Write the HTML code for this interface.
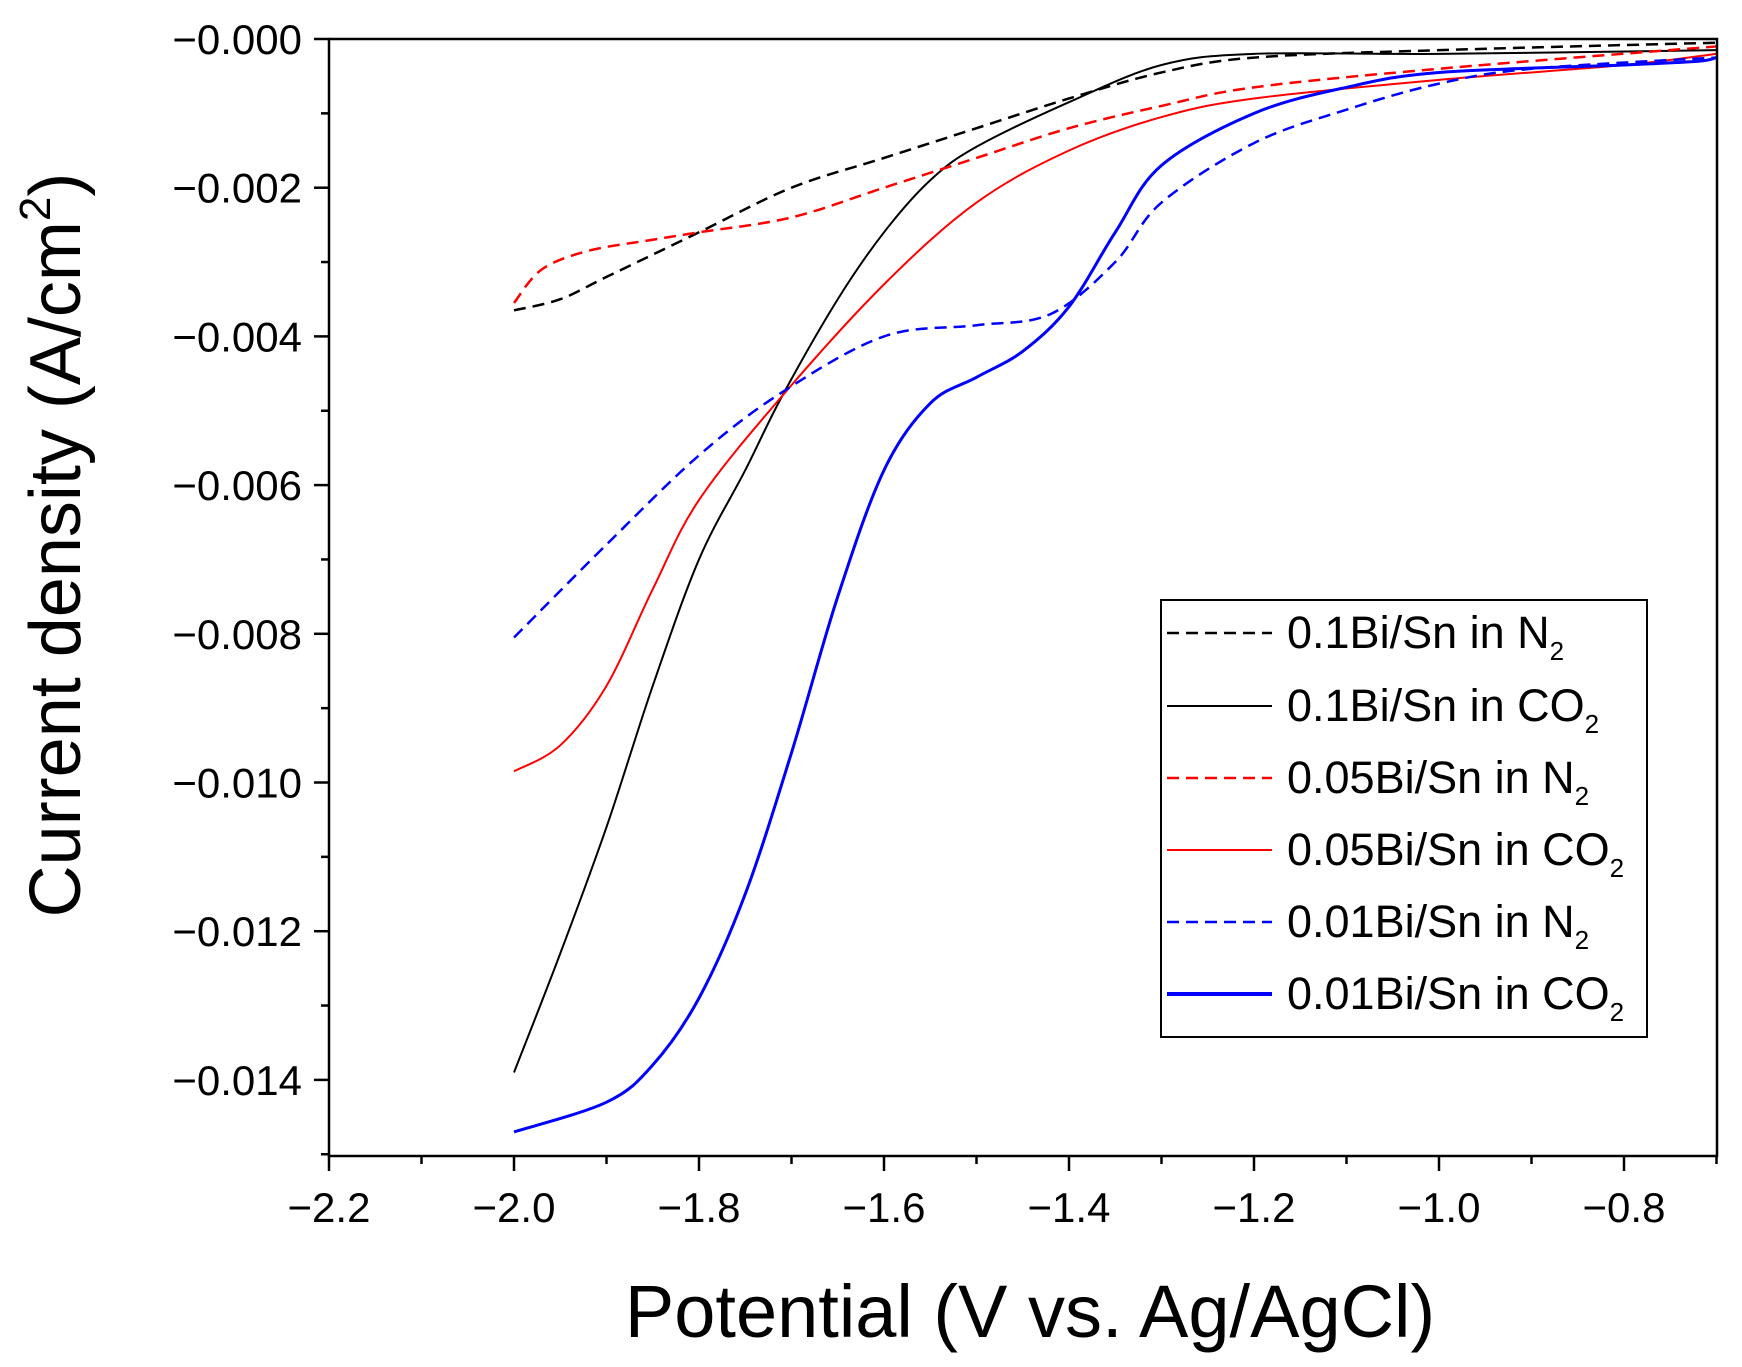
<!DOCTYPE html>
<html><head><meta charset="utf-8"><style>
html,body{margin:0;padding:0;background:#fff;}
svg{display:block;font-family:"Liberation Sans",Arial,sans-serif;}
</style></head><body>
<svg id="s" width="1742" height="1367" viewBox="0 0 1742 1367" xmlns="http://www.w3.org/2000/svg">
<rect width="1742" height="1367" fill="#fff"/>
<g id="curves"></g>
<rect x="329" y="39" width="1388" height="1117" fill="none" stroke="#000" stroke-width="2.5"/>
<g id="ticks" stroke="#000" stroke-width="2.5"></g>
<g id="labels" font-size="42" fill="#000"></g>
<text x="1030" y="1337" font-size="74" text-anchor="middle">Potential (V vs. Ag/AgCl)</text>
<text transform="translate(80,545) rotate(-90)" font-size="72" text-anchor="middle">Current density (A/cm<tspan dy="-30" font-size="44">2</tspan><tspan dy="30">)</tspan></text>
<rect x="1161" y="600" width="486" height="437" fill="#fff" stroke="#000" stroke-width="2"/>
<g font-size="45" fill="#000">
<line x1="1167" y1="633" x2="1272" y2="633" stroke="#000" stroke-width="2.5" stroke-dasharray="12,7"/>
<text x="1287" y="648">0.1Bi/Sn in N<tspan dy="12" font-size="26">2</tspan></text>
<line x1="1167" y1="706" x2="1272" y2="706" stroke="#000" stroke-width="2"/>
<text x="1287" y="721">0.1Bi/Sn in CO<tspan dy="12" font-size="26">2</tspan></text>
<line x1="1167" y1="778" x2="1272" y2="778" stroke="#f00" stroke-width="2.5" stroke-dasharray="12,7"/>
<text x="1287" y="793">0.05Bi/Sn in N<tspan dy="12" font-size="26">2</tspan></text>
<line x1="1167" y1="850" x2="1272" y2="850" stroke="#f00" stroke-width="2"/>
<text x="1287" y="865">0.05Bi/Sn in CO<tspan dy="12" font-size="26">2</tspan></text>
<line x1="1167" y1="922" x2="1272" y2="922" stroke="#00f" stroke-width="2.5" stroke-dasharray="12,7"/>
<text x="1287" y="937">0.01Bi/Sn in N<tspan dy="12" font-size="26">2</tspan></text>
<line x1="1167" y1="994" x2="1272" y2="994" stroke="#00f" stroke-width="4"/>
<text x="1287" y="1009">0.01Bi/Sn in CO<tspan dy="12" font-size="26">2</tspan></text>
</g>
</svg>
<script>
const NS="http://www.w3.org/2000/svg";
const X=v=>329+(v+2.2)*925, Y=j=>39+(-j)*74.35;
function el(p,t,a){const e=document.createElementNS(NS,t);for(const k in a)e.setAttribute(k,a[k]);p.appendChild(e);return e;}
const tk=document.getElementById('ticks'),lb=document.getElementById('labels');
for(let i=0;i<=15;i++){const v=-2.2+i*0.1;const x=X(v);const maj=i%2==0;
 el(tk,'line',{x1:x,y1:1156,x2:x,y2:1156+(maj?15:8)});
 if(maj&&i<=14){const t=el(lb,'text',{x:x,y:1222,'text-anchor':'middle'});t.textContent='\u2212'+Math.abs(v).toFixed(1);}}
for(let i=0;i<=15;i++){const y=Y(-i);const maj=i%2==0;
 el(tk,'line',{x1:329,y1:y,x2:329-(maj?15:8),y2:y});
 if(maj){const t=el(lb,'text',{x:302,y:y+15,'text-anchor':'end'});t.textContent='\u2212'+(i/1000).toFixed(3);}}
function path(pts){const p=pts.map(a=>[X(a[0]),Y(a[1])]);let d='M'+p[0][0]+','+p[0][1];
 for(let i=0;i<p.length-1;i++){const p0=p[i-1]||p[i],p1=p[i],p2=p[i+1],p3=p[i+2]||p2;
 d+=' C'+(p1[0]+(p2[0]-p0[0])/6)+','+(p1[1]+(p2[1]-p0[1])/6)+' '+(p2[0]-(p3[0]-p1[0])/6)+','+(p2[1]-(p3[1]-p1[1])/6)+' '+p2[0]+','+p2[1];}return d;}
const C=document.getElementById('curves');
const S=[
 ['#000',2.5,'12,7',[[-2.0,-3.65],[-1.95,-3.5],[-1.9,-3.2],[-1.8,-2.6],[-1.7,-2.0],[-1.6,-1.6],[-1.5,-1.2],[-1.4,-0.8],[-1.3,-0.45],[-1.2,-0.25],[-1.0,-0.15],[-0.7,-0.05]]],
 ['#000',2,'',[[-2.0,-13.9],[-1.95,-12.3],[-1.9,-10.6],[-1.85,-8.7],[-1.8,-7.0],[-1.75,-5.8],[-1.71,-4.8],[-1.65,-3.5],[-1.6,-2.6],[-1.55,-1.9],[-1.5,-1.45],[-1.4,-0.85],[-1.3,-0.35],[-1.2,-0.2],[-1.0,-0.2],[-0.7,-0.15]]],
 ['#f00',2.5,'12,7',[[-2.0,-3.55],[-1.97,-3.1],[-1.92,-2.85],[-1.85,-2.7],[-1.8,-2.6],[-1.7,-2.4],[-1.6,-2.0],[-1.5,-1.6],[-1.4,-1.2],[-1.3,-0.9],[-1.2,-0.65],[-1.0,-0.4],[-0.7,-0.1]]],
 ['#f00',2,'',[[-2.0,-9.85],[-1.95,-9.5],[-1.9,-8.7],[-1.85,-7.4],[-1.8,-6.2],[-1.71,-4.8],[-1.6,-3.3],[-1.5,-2.2],[-1.4,-1.5],[-1.3,-1.05],[-1.2,-0.8],[-1.0,-0.55],[-0.8,-0.35],[-0.7,-0.2]]],
 ['#00f',2.5,'12,7',[[-2.0,-8.05],[-1.9,-6.8],[-1.8,-5.6],[-1.71,-4.75],[-1.6,-4.0],[-1.5,-3.85],[-1.42,-3.7],[-1.35,-3.0],[-1.3,-2.2],[-1.2,-1.4],[-1.1,-0.95],[-1.0,-0.6],[-0.9,-0.4],[-0.7,-0.25]]],
 ['#00f',3,'',[[-2.0,-14.7],[-1.9,-14.3],[-1.85,-13.8],[-1.8,-12.9],[-1.75,-11.5],[-1.7,-9.6],[-1.65,-7.5],[-1.6,-5.8],[-1.55,-4.9],[-1.5,-4.55],[-1.45,-4.2],[-1.4,-3.6],[-1.35,-2.6],[-1.3,-1.7],[-1.2,-1.0],[-1.1,-0.65],[-1.0,-0.45],[-0.8,-0.35],[-0.72,-0.3],[-0.7,-0.25]]]
];
S.forEach(s=>{const a={d:path(s[3]),fill:'none',stroke:s[0],'stroke-width':s[1]};if(s[2])a['stroke-dasharray']=s[2];el(C,'path',a);});
</script>
</body></html>
